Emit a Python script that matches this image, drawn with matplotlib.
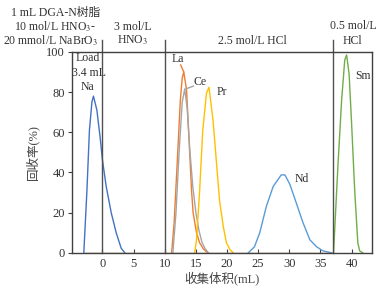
import matplotlib
matplotlib.use("Agg")
import matplotlib.pyplot as plt

plt.rcParams['font.family'] = ['Liberation Serif', 'Noto Sans CJK SC']
plt.rcParams['mathtext.fontset'] = 'stix'
plt.rcParams['text.color'] = '#333333'

# data (volume mL, recovery %)
na_x = [-3.0, -2.5, -2.1, -1.7, -1.45, -0.9, -0.4, 0.0, 0.6, 1.4, 2.2, 3.0, 3.6]
na_y = [0, 31, 61, 75, 78, 71, 58, 46, 33, 20, 10, 2.3, 0]

la_x = [11.1, 11.5, 12.0, 12.5, 12.8, 13.05, 13.5, 14.0, 14.3, 14.55, 15.1, 15.6, 16.2, 16.7, 17.0]
la_y = [0, 15, 45, 76, 87, 90, 81, 50, 31, 20, 10, 5, 2, 0.5, 0]

ce_x = [11.3, 11.8, 12.3, 12.8, 13.2, 13.6, 14.0, 14.5, 15.0, 15.5, 16.0, 16.5, 17.0]
ce_y = [0, 20, 50, 75, 81.5, 72, 52, 33, 20, 11, 5, 2, 0]

pr_x = [14.8, 15.1, 15.6, 16.1, 16.7, 17.1, 17.75, 18.3, 18.8, 19.4, 19.9, 20.5, 21.0]
pr_y = [0, 6.5, 31, 61, 79.5, 82.4, 66, 45, 26, 13, 5, 1.5, 0]

nd_x = [23.4, 24.4, 25.25, 26.3, 27.4, 28.7, 29.3, 30.1, 31.1, 32.2, 33.3, 34.4, 35.4, 36.8]
nd_y = [0, 3, 10, 23, 33, 38.8, 38.8, 34, 25, 15, 6.5, 3, 1, 0]

sm_x = [37.1, 37.8, 38.4, 38.9, 39.2, 39.6, 40.0, 40.5, 41.0, 41.3, 41.8]
sm_y = [0, 43, 76, 96, 98.5, 89, 64.5, 31, 5, 1, 0]

stage_edges = [0, 10, 37]
x_ticks = [0, 5, 10, 15, 20, 25, 30, 35, 40]
y_ticks = [0, 20, 40, 60, 80, 100]

fig = plt.figure(figsize=(3.87, 2.9), dpi=100)
ax = fig.add_axes([0.186, 0.128, 0.774, 0.693])

ax.plot(na_x, na_y, color='#4472C4', lw=1)
ax.plot(la_x, la_y, color='#ED7D31', lw=1)
ax.plot(ce_x, ce_y, color='#A5A5A5', lw=1)
ax.plot(pr_x, pr_y, color='#FFC000', lw=1)
ax.plot(nd_x, nd_y, color='#5B9BD5', lw=1)
ax.plot(sm_x, sm_y, color='#70AD47', lw=1)
ax.plot([-3, 37], [0, 0], color='#B07048', lw=1)

for e in stage_edges:
    ax.axvline(e, ymin=0, ymax=1.06, color='#505050', lw=1, clip_on=False)

ax.set_xlim(-4.9, 43.2)
ax.set_ylim(0, 100)
ax.set_xticks(x_ticks)
ax.set_yticks(y_ticks)
ax.tick_params(axis='x', direction='in', length=3, labelsize=9, color='#404040',
               labelcolor='#333333', pad=4)
ax.tick_params(axis='y', direction='out', length=3, labelsize=9, color='#404040',
               labelcolor='#333333', pad=2)
for s in ax.spines.values():
    s.set_color('#404040')
    s.set_linewidth(1)

ax.set_xlabel('收集体积(mL)', fontsize=9, labelpad=1, color='#444444')
ax.set_ylabel('回收率(%)', fontsize=9, labelpad=5, color='#444444')

# stage labels above the frame
kw = dict(ha='center', va='center', fontsize=8.5, clip_on=False)
ax.text(-7.6, 119.2, '1 mL DGA-N树脂', **kw)
ax.text(-7.6, 112.4, r'10 mol/L HNO$_3$-', **kw)
ax.text(-8.3, 105.6, r'20 mmol/L NaBrO$_3$', **kw)
ax.text(4.9, 112.4, '3 mol/L', **kw)
ax.text(4.9, 105.6, r'HNO$_3$', **kw)
ax.text(24.1, 105.6, '2.5 mol/L HCl', **kw)
ax.text(40.2, 112.8, '0.5 mol/L', **kw)
ax.text(40.2, 105.6, 'HCl', **kw)

# labels inside
ax.text(-2.4, 97, 'Load', **kw)
ax.text(-2.1, 89.5, '3.4 mL', **kw)
ax.text(-2.4, 82.5, 'Na', **kw)
ax.text(12.1, 96.5, 'La', **kw)
ax.plot([12.55, 13.05], [93.5, 90], color='#ED7D31', lw=1)
ax.text(15.7, 85, 'Ce', **kw)
ax.plot([14.6, 13.3], [83, 81.5], color='#A5A5A5', lw=1)
ax.text(19.2, 80, 'Pr', **kw)
ax.text(32.0, 36.7, 'Nd', **kw)
ax.text(41.8, 88, 'Sm', **kw)

fig.savefig('out.png', dpi=100)
